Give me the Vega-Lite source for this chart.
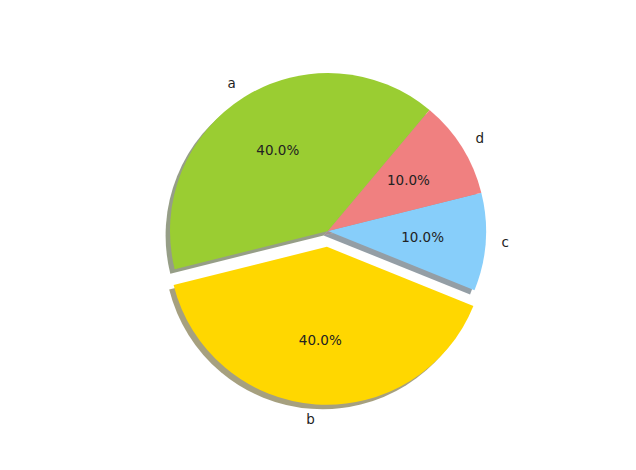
{
  "$schema": "https://vega.github.io/schema/vega-lite/v6.json",
  "width": 616,
  "height": 462,
  "autosize": "none",
  "padding": {"left": 20, "top": 0, "right": 0, "bottom": 8},
  "background": "white",
  "config": {"view": {"stroke": null}, "text": {"font": "DejaVu Sans", "fontSize": 13.5, "fill": "#222222"}},
  "data": {"values": [
    {"label": "a", "share": 0.4},
    {"label": "b", "share": 0.4},
    {"label": "c", "share": 0.1},
    {"label": "d", "share": 0.1}
  ]},
  "encoding": {
    "theta": {"field": "share", "type": "quantitative", "stack": true, "scale": {"range": [0.6981, 6.9813]}},
    "order": {"field": "label", "sort": "descending"}
  },
  "layer": [
    {
      "mark": {"type": "arc", "outerRadius": 158, "xOffset": -4.4, "yOffset": 4.4},
      "encoding": {
        "color": {"field": "label", "type": "nominal", "legend": null,
          "scale": {"domain": ["a", "b", "c", "d"], "range": ["#2e3e0f", "#4d4100", "#293e4b", "#482626"]}},
        "fillOpacity": {"condition": {"test": "datum.label === 'b'", "value": 0}, "value": 0.5}
      }
    },
    {
      "mark": {"type": "arc", "outerRadius": 158, "xOffset": -5.5, "yOffset": 20.2},
      "encoding": {
        "color": {"field": "label", "type": "nominal", "legend": null,
          "scale": {"domain": ["a", "b", "c", "d"], "range": ["#2e3e0f", "#4d4100", "#293e4b", "#482626"]}},
        "fillOpacity": {"condition": {"test": "datum.label === 'b'", "value": 0.5}, "value": 0}
      }
    },
    {
      "mark": {"type": "arc", "outerRadius": 158},
      "encoding": {
        "color": {"field": "label", "type": "nominal", "legend": null,
          "scale": {"domain": ["a", "b", "c", "d"], "range": ["#9acd32", "#ffd700", "#87cefa", "#f08080"]}},
        "fillOpacity": {"condition": {"test": "datum.label === 'b'", "value": 0}, "value": 1}
      }
    },
    {
      "mark": {"type": "arc", "outerRadius": 158, "xOffset": -1.1, "yOffset": 15.8},
      "encoding": {
        "color": {"field": "label", "type": "nominal", "legend": null,
          "scale": {"domain": ["a", "b", "c", "d"], "range": ["#9acd32", "#ffd700", "#87cefa", "#f08080"]}},
        "fillOpacity": {"condition": {"test": "datum.label === 'b'", "value": 1}, "value": 0}
      }
    },
    {
      "mark": {"type": "text", "radius": 94.8, "align": "center", "baseline": "middle"},
      "encoding": {
        "text": {"condition": {"test": "datum.label !== 'b'", "field": "share", "format": ".1%"}, "value": ""}
      }
    },
    {
      "mark": {"type": "text", "radius": 94.8, "align": "center", "baseline": "middle", "xOffset": -1.1, "yOffset": 15.8},
      "encoding": {
        "text": {"condition": {"test": "datum.label === 'b'", "field": "share", "format": ".1%"}, "value": ""}
      }
    },
    {
      "mark": {"type": "text", "radius": 173.8, "align": "right", "baseline": "middle"},
      "encoding": {
        "text": {"condition": {"test": "datum.label === 'a'", "field": "label"}, "value": ""}
      }
    },
    {
      "mark": {"type": "text", "radius": 173.8, "align": "right", "baseline": "middle", "xOffset": -1.1, "yOffset": 15.8},
      "encoding": {
        "text": {"condition": {"test": "datum.label === 'b'", "field": "label"}, "value": ""}
      }
    },
    {
      "mark": {"type": "text", "radius": 173.8, "align": "left", "baseline": "middle"},
      "encoding": {
        "text": {"condition": {"test": "datum.label === 'c' || datum.label === 'd'", "field": "label"}, "value": ""}
      }
    }
  ],
  "resolve": {"scale": {"color": "independent"}}
}
